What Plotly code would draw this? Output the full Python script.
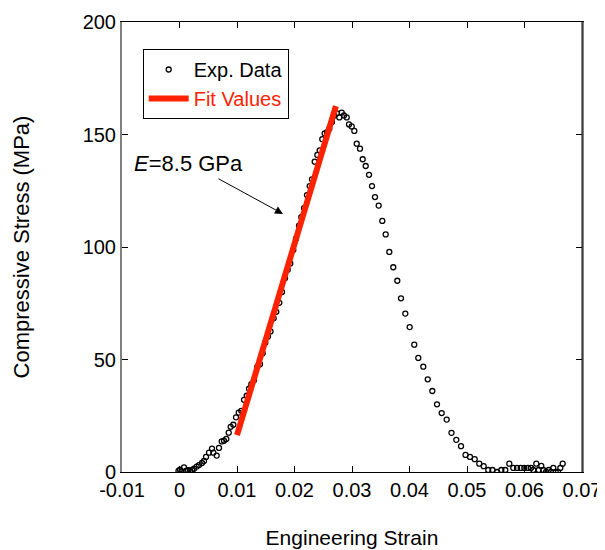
import plotly.graph_objects as go

# compressive test
strain = [
    -0.00017, 0.00009, 0.00035, 0.00078, 0.00113, 0.00148, 0.00183, 0.00217, 0.00252, 0.00299,
    0.00339, 0.00391, 0.00426, 0.00461, 0.00513, 0.00565, 0.00588, 0.00647, 0.00687, 0.00734,
    0.00774, 0.00814, 0.00856, 0.00890, 0.00936, 0.00983, 0.01030, 0.01075, 0.01122, 0.01169,
    0.01209, 0.01249, 0.01296, 0.01353, 0.01400, 0.01447, 0.01492, 0.01539, 0.01583, 0.01638,
    0.01683, 0.01736, 0.01783, 0.01835, 0.01882, 0.01927, 0.01979, 0.02026, 0.02078, 0.02118,
    0.02165, 0.02217, 0.02264, 0.02304, 0.02351, 0.02397, 0.02438, 0.02483, 0.02525, 0.02565,
    0.02605, 0.02652, 0.02692, 0.02739, 0.02779, 0.02821, 0.02861, 0.02908, 0.02948, 0.02995,
    0.03040, 0.03082, 0.03139, 0.03186, 0.03238, 0.03296, 0.03348, 0.03400, 0.03464, 0.03527,
    0.03586, 0.03649, 0.03718, 0.03788, 0.03852, 0.03927, 0.04003, 0.04083, 0.04153, 0.04240,
    0.04317, 0.04397, 0.04478, 0.04560, 0.04647, 0.04730, 0.04814, 0.04896, 0.04974, 0.05052,
    0.05134, 0.05214, 0.05290, 0.05369, 0.05443, 0.05522, 0.05597, 0.05666, 0.05736, 0.05805,
    0.05870, 0.05934, 0.05997, 0.06061, 0.06113, 0.06153, 0.06205, 0.06247, 0.06292, 0.06327,
    0.06374, 0.06421, 0.06461, 0.06501, 0.06543, 0.06583, 0.06623, 0.06664,
]
stress = [
    0.5, 1.0, 0.3, 2.1, 0.5, 0.8, 0.6, 0.9, 1.5, 2.4,
    3.1, 4.0, 4.9, 6.7, 8.6, 10.4, 8.6, 7.3, 10.7, 13.6,
    13.9, 14.7, 17.5, 20.1, 21.0, 24.3, 26.4, 27.2, 32.1, 33.9,
    37.0, 39.0, 40.8, 46.8, 47.9, 52.8, 57.5, 60.2, 62.5, 68.3,
    71.2, 75.2, 80.0, 86.1, 89.9, 92.7, 98.7, 103.7, 109.5, 113.3,
    117.3, 123.1, 127.1, 130.1, 137.9, 140.9, 142.9, 147.9, 150.5, 151.0,
    152.6, 155.6, 158.5, 159.4, 157.6, 159.7, 158.5, 157.6, 154.5, 153.6,
    151.6, 145.9, 143.7, 139.0, 136.0, 132.1, 127.1, 122.2, 118.4, 111.6,
    105.6, 97.8, 91.0, 85.0, 77.2, 70.4, 64.4, 56.6, 50.7, 46.8,
    41.2, 36.0, 30.1, 26.2, 23.3, 17.4, 14.3, 11.5, 7.6, 6.7,
    5.7, 3.7, 2.6, 0.9, 0.9, 0.0, 0.9, 0.9, 3.7, 1.8,
    1.8, 1.8, 1.8, 1.8, 1.8, 0.9, 3.7, 0.9, 2.7, 0.9,
    0.0, 0.9, 0.0, 1.8, 0.0, 0.0, 1.8, 3.7,
]

# linear fit, E = 8.5 GPa
fit_strain = [0.0100, 0.0272]
fit_stress = [16.4, 162.6]

x_ticks = [-0.01, 0, 0.01, 0.02, 0.03, 0.04, 0.05, 0.06, 0.07]
x_labels = ["-0.01", "0", "0.01", "0.02", "0.03", "0.04", "0.05", "0.06", "0.07"]
y_ticks = [0, 50, 100, 150, 200]

ROJO = "#FF2200"
FUENTE = "Liberation Sans, Arial, sans-serif"

fig = go.Figure()
fig.add_trace(go.Scatter(
    x=strain, y=stress, mode="markers", name="Exp. Data",
    marker=dict(symbol="circle-open", size=5, color="black", line=dict(width=1.3, color="black")),
))
fig.add_trace(go.Scatter(
    x=fit_strain, y=fit_stress, mode="lines",
    name=f"<span style='color:{ROJO}'>Fit Values</span>",
    line=dict(color=ROJO, width=6),
))

fig.add_annotation(
    x=0.0180, y=114.7, ax=0.00652, ay=130.7, axref="x", ayref="y",
    text="", showarrow=True, arrowhead=2, arrowsize=1.6, arrowwidth=1, arrowcolor="black",
)
fig.add_annotation(
    x=0.00165, y=137.3, text="<i>E</i>=8.5 GPa", showarrow=False,
    font=dict(size=22, color="black", family=FUENTE),
)

# right spine in black, left one stays grey
fig.add_shape(type="line", xref="paper", yref="paper", x0=1, x1=1, y0=0, y1=1,
              line=dict(color="black", width=1))

# page body adds an 8px margin; keep the plot where the reference has it
fig.update_layout(
    width=605, height=542,
    margin=dict(l=114, r=31, t=14, b=78),
    paper_bgcolor="white", plot_bgcolor="white",
    font=dict(family=FUENTE, size=20, color="black"),
    showlegend=True,
    legend=dict(
        x=0.045, y=0.94, xanchor="left", yanchor="top",
        bgcolor="white", bordercolor="black", borderwidth=1,
        font=dict(size=20), tracegroupgap=0, itemwidth=40,
    ),
    xaxis=dict(
        range=[-0.01, 0.07], tickvals=x_ticks, ticktext=x_labels, automargin=False,
        ticks="inside", ticklen=6, tickcolor="black", showgrid=False, zeroline=False,
        showline=True, linecolor="black", linewidth=1, mirror="ticks",
        title=dict(text="Engineering Strain", font=dict(size=21), standoff=30),
    ),
    yaxis=dict(
        range=[0, 200], tickvals=y_ticks, automargin=False,
        ticks="inside", ticklen=6, tickcolor="black", showgrid=False, zeroline=False,
        showline=True, linecolor="#808080", linewidth=2, mirror="ticks",
        title=dict(text="Compressive Stress (MPa)", font=dict(size=22), standoff=47),
    ),
)

fig.write_html("out.html")
